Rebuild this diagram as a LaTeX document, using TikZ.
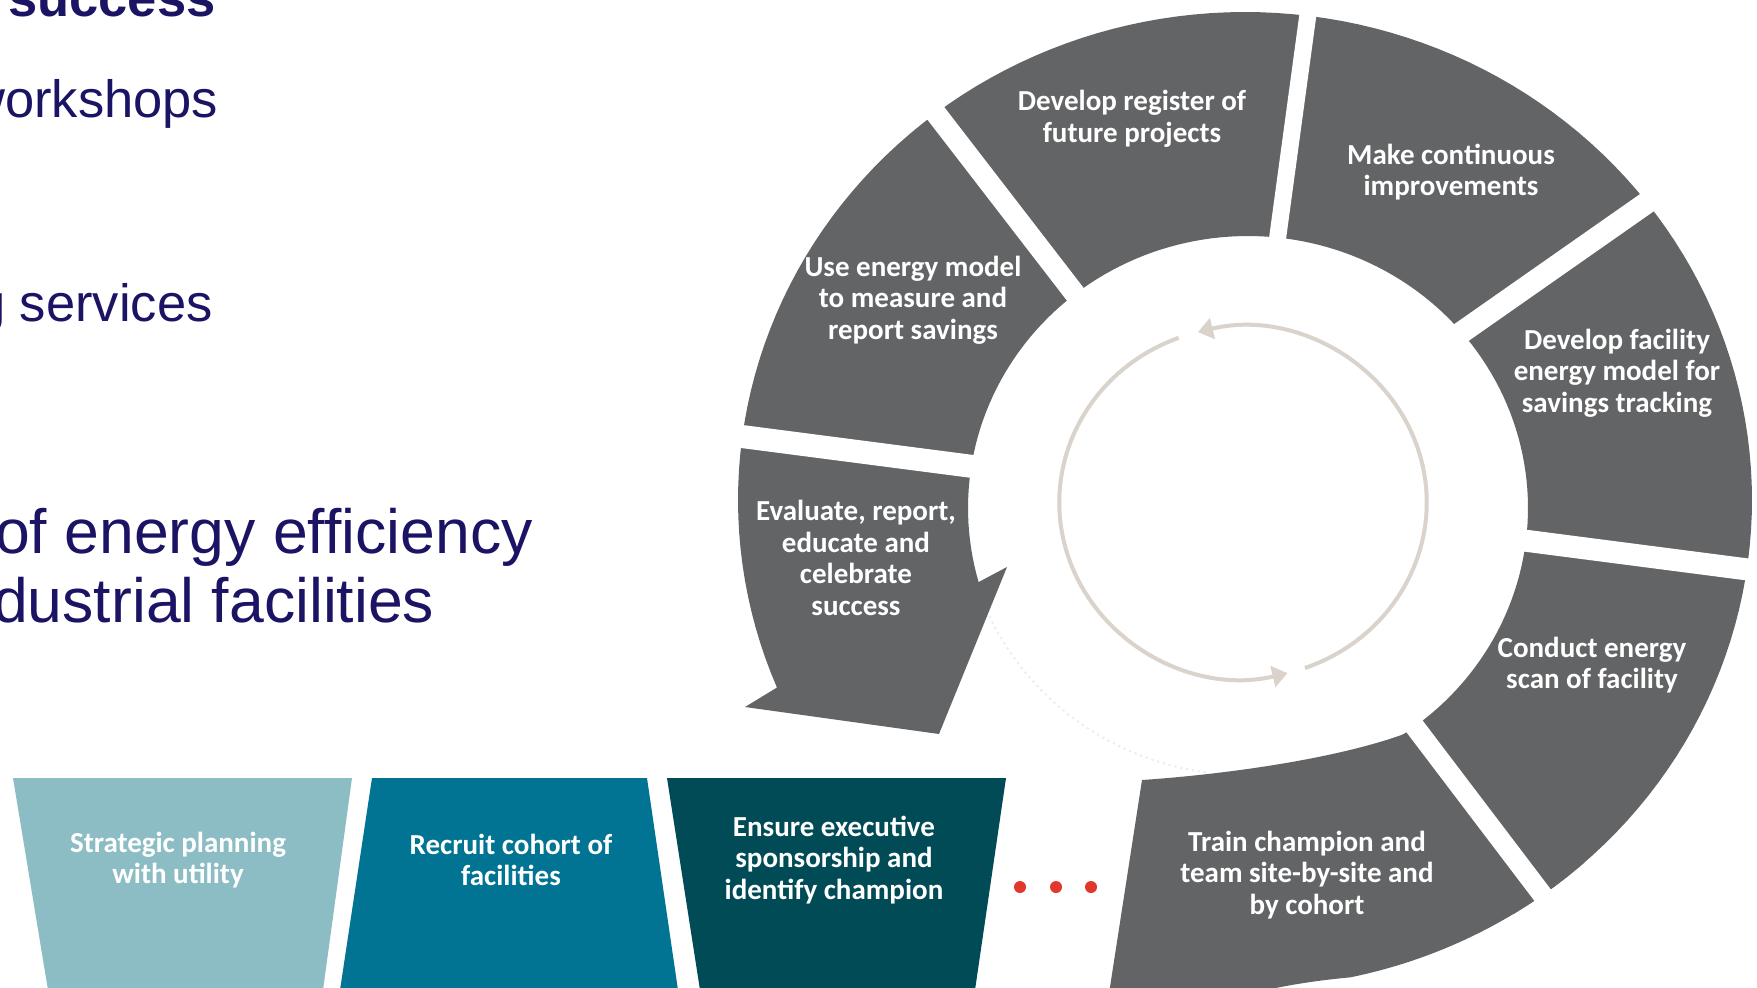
\documentclass[tikz,border=0pt]{standalone}
\usepackage{fontspec}
\usetikzlibrary{arrows.meta,calc}
\newfontfamily\lblfont{Carlito}
\newfontfamily\arialfont{Liberation Sans}[Ligatures=NoCommon]
\definecolor{ringgray}{RGB}{99,100,102}
\definecolor{tealA}{RGB}{141,189,196}
\definecolor{tealB}{RGB}{0,116,146}
\definecolor{tealC}{RGB}{1,75,86}
\definecolor{navy}{RGB}{27,20,100}
\definecolor{dotred}{RGB}{224,56,45}
\definecolor{arrowbeige}{RGB}{217,211,203}
\definecolor{faintgray}{RGB}{236,236,236}
\newcommand\segfont{\lblfont\bfseries\fontsize{29}{31.5}\selectfont}
\begin{document}
\begin{tikzpicture}[x=1pt,y=-1pt,
  ringfill/.style={fill=ringgray},
  gapcut/.style={draw=white,line width=#1,line cap=butt},
  segtext/.style={text=white,font=\segfont,align=center,inner sep=0pt},
  lefttext/.style={text=navy,anchor=base west,inner sep=0pt},
  cyclearrow/.style={draw=arrowbeige,line width=4pt,-{Triangle[length=15pt,width=21pt]}},
  reddot/.style={circle,fill=dotred,minimum size=12pt,inner sep=0pt}]
\useasboundingbox (0,0) rectangle (1757,988);
\fill[white] (0,0) rectangle (1757,988);
\clip (0,0) rectangle (1757,988);

% ---- ring with arrow (Conduct ... Evaluate) ----
\fill[ringfill] plot[domain=-58:202.6,samples=140] ({1245+507*cos(\x)},{500-488*sin(\x)})
  -- (745,707) -- (939,734) -- (1007,567)
  -- plot[domain=195.8:-58,samples=140] ({1248+280*cos(\x)},{508-272*sin(\x)}) -- cycle;
% ---- Train segment ----
\fill[ringfill] (1108,1000) -- (1142,780) .. controls (1230,774) and (1340,758) .. (1407,733)
  -- (1440,718) -- plot[domain=-48:-78,samples=40] ({1245+507*cos(\x)},{500-488*sin(\x)})
  .. controls (1300,982) and (1260,990) .. (1230,1000) -- cycle;

% ---- gaps between segments ----
\coordinate (g1i) at (1278,235); \coordinate (g1o) at (1308,14);
\coordinate (g2i) at (1465,330); \coordinate (g2o) at (1645,204);
\coordinate (g3i) at (1528,541); \coordinate (g3o) at (1744,569);
\coordinate (g4i) at (1415,727); \coordinate (g4o) at (1541,893);
\coordinate (g5i) at (1072,290); \coordinate (g5o) at (934,111);
\coordinate (g6i) at (969,466);  \coordinate (g6o) at (738,436);
\draw[gapcut=17pt] ($(g1i)!-40pt!(g1o)$) -- ($(g1o)!-40pt!(g1i)$);
\draw[gapcut=22pt] ($(g2i)!-40pt!(g2o)$) -- ($(g2o)!-40pt!(g2i)$);
\draw[gapcut=22pt] ($(g3i)!-40pt!(g3o)$) -- ($(g3o)!-40pt!(g3i)$);
\draw[gapcut=20pt] ($(g4i)!-40pt!(g4o)$) -- ($(g4o)!-40pt!(g4i)$);
\draw[gapcut=21pt] ($(g5i)!-40pt!(g5o)$) -- ($(g5o)!-40pt!(g5i)$);
\draw[gapcut=23pt] ($(g6i)!-40pt!(g6o)$) -- ($(g6o)!-40pt!(g6i)$);

% ---- inner cycle arrows ----
\coordinate (ca1) at ({1243+183.7*cos(-70.3)},{502.5-175.8*sin(-70.3)});
\coordinate (ca2) at ({1243+183.7*cos(110.5)},{502.5-175.8*sin(110.5)});
\draw[cyclearrow] (ca1) arc[start angle=70.3,end angle=-104.2,x radius=183.7,y radius=175.8];
\draw[cyclearrow] (ca2) arc[start angle=-110.5,end angle=-284,x radius=183.7,y radius=175.8];
% faint dotted trace
\coordinate (fd) at ({1245+282*cos(205)},{500-275*sin(205)});
\draw[faintgray,line width=2pt,dash pattern=on 2pt off 4pt] (fd) arc[start angle=-205,end angle=-262,x radius=282,y radius=275];

% ---- bottom boxes ----
\fill[tealA] (13,778) -- (352,778) -- (323,990) -- (48,990) -- cycle;
\fill[tealB] (372,778) -- (647,778) -- (678,990) -- (340,990) -- cycle;
\fill[tealC] (667,778) -- (1006,778) -- (975,990) -- (700,990) -- cycle;

\node[reddot] (d1) at (1020,887) {};
\node[reddot] (d2) at (1056,887) {};
\node[reddot] (d3) at (1091,887) {};

% ---- texts ----
\node[segtext] (register) at (1132,119) {Develop register of\\future projects};
\node[segtext] (improve) at (1451,172) {Make continuous\\improvements};
\node[segtext] (usemodel) at (913,300) {Use energy model\\to measure and\\report savings};
\node[segtext] (facility) at (1617,373) {Develop facility\\energy model for\\savings tracking};
\node[segtext] (evaluate) at (856,558) {Evaluate, report,\\educate and\\celebrate\\success};
\node[segtext] (scan) at (1592,665) {Conduct energy\\scan of facility};
\node[segtext] (train) at (1307,875) {Train champion and\\team site-by-site and\\by cohort};
\node[segtext] (strategic) at (178,860) {Strategic planning\\with utility};
\node[segtext] (recruit) at (511,860) {Recruit cohort of\\facilities};
\node[segtext] (ensure) at (834,860) {Ensure executive\\sponsorship and\\identify champion};

\node[lefttext,font=\arialfont\bfseries\fontsize{52.5}{60}\selectfont] (t1) at (8,16) {success};
\node[lefttext,font=\arialfont\fontsize{52.5}{60}\selectfont] (t2) at (-33,117) {workshops};
\node[lefttext,font=\arialfont\fontsize{52.5}{60}\selectfont] (t3) at (-24,321) {g services};
\node[lefttext,font=\arialfont\fontsize{62.5}{70}\selectfont] (t4) at (-5,553) {of energy efficiency};
\node[lefttext,font=\arialfont\fontsize{62.5}{70}\selectfont] (t5) at (-7,622) {dustrial facilities};
\end{tikzpicture}
\end{document}
